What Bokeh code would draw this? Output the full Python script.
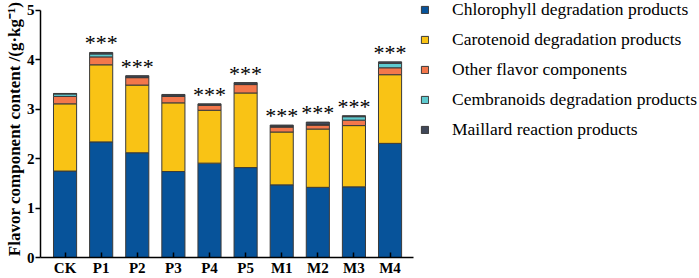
from bokeh.plotting import figure
from bokeh.models import ColumnDataSource, Range1d, Legend, LegendItem, LabelSet, FixedTicker
from bokeh.embed import file_html
from bokeh.resources import INLINE

groups = ["CK", "P1", "P2", "P3", "P4", "P5", "M1", "M2", "M3", "M4"]
chlorophyll = [1.75, 2.34, 2.12, 1.74, 1.91, 1.82, 1.47, 1.42, 1.43, 2.31]
carotenoid = [1.36, 1.56, 1.37, 1.39, 1.07, 1.51, 1.07, 1.18, 1.24, 1.39]
other = [0.15, 0.16, 0.15, 0.13, 0.10, 0.17, 0.10, 0.08, 0.11, 0.14]
cembranoids = [0.05, 0.06, 0.01, 0.01, 0.01, 0.01, 0.01, 0.01, 0.07, 0.09]
maillard = [0.01, 0.03, 0.03, 0.03, 0.02, 0.03, 0.03, 0.05, 0.02, 0.03]
stars = ["", "***", "***", "", "***", "***", "***", "***", "***", "***"]
y_ticks = [0, 1, 2, 3, 4, 5]

series_keys = ["chlorophyll", "carotenoid", "other", "cembranoids", "maillard"]
series_names = ["Chlorophyll degradation products", "Carotenoid degradation products",
                "Other flavor components", "Cembranoids degradation products",
                "Maillard reaction products"]
colors = ["#07539A", "#F9C315", "#F3774B", "#5ECACF", "#404859"]

xpos = list(range(len(groups)))
totals = [a + b + c + d + e for a, b, c, d, e in zip(chlorophyll, carotenoid, other, cembranoids, maillard)]
src = ColumnDataSource(dict(x=xpos, groups=groups, chlorophyll=chlorophyll, carotenoid=carotenoid,
                            other=other, cembranoids=cembranoids, maillard=maillard,
                            totals=totals, stars=stars))

SERIF = "Liberation Serif"

p = figure(width=699, height=278, x_range=Range1d(-0.68, 17.57), y_range=Range1d(0, 5.2016),
           output_backend="svg", toolbar_location=None,
           min_border_left=40, min_border_right=0, min_border_top=0, min_border_bottom=20)
p.outline_line_color = None
p.xgrid.grid_line_color = None
p.ygrid.grid_line_color = None
p.background_fill_color = "white"

rs = p.vbar_stack(series_keys, x="x", width=0.64, source=src, color=colors,
                  line_color="#3a3a3a", line_width=1)

labels = LabelSet(x="x", y="totals", text="stars", source=src, text_align="center",
                  text_baseline="alphabetic", y_offset=2, text_font="Liberation Sans",
                  text_font_size="22px", text_color="black")
p.add_layout(labels)

items = [LegendItem(label=n, renderers=[r]) for n, r in zip(series_names, rs)]
legend = Legend(items=items, location=(380, 117), glyph_width=9, glyph_height=9,
                label_height=21, spacing=9, padding=0, margin=0, label_standoff=23,
                label_text_font=SERIF, label_text_font_size="17.5px", border_line_color=None,
                background_fill_alpha=0, label_text_color="black")
p.add_layout(legend)

for ax in (p.xaxis[0], p.yaxis[0]):
    ax.axis_line_width = 1.5
    ax.axis_line_color = "black"
    ax.major_tick_line_color = "black"
    ax.major_tick_line_width = 1.5
    ax.minor_tick_line_color = None
    ax.major_label_text_font = SERIF
    ax.major_label_text_font_style = "bold"
    ax.major_label_text_font_size = "15px"
    ax.major_label_text_color = "black"

p.xaxis.ticker = FixedTicker(ticks=xpos)
p.xaxis.major_label_overrides = {i: g for i, g in zip(xpos, groups)}
p.xaxis.bounds = (-0.68, 9.65)
p.xaxis.major_tick_in = 5
p.xaxis.major_tick_out = 0
p.xaxis.major_label_standoff = 2

p.yaxis.major_tick_in = 0
p.yaxis.major_tick_out = 5
p.yaxis.major_label_standoff = 1
p.yaxis.ticker = FixedTicker(ticks=y_ticks)
p.yaxis.bounds = (0, 5)
p.yaxis.axis_label = "Flavor component content /(g·kg⁻¹)"
p.yaxis.axis_label_text_font = SERIF
p.yaxis.axis_label_text_font_style = "bold"
p.yaxis.axis_label_text_font_size = "17px"
p.yaxis.axis_label_standoff = 0
p.yaxis.axis_label_text_color = "black"

open("out.html", "w").write(file_html(p, INLINE))
